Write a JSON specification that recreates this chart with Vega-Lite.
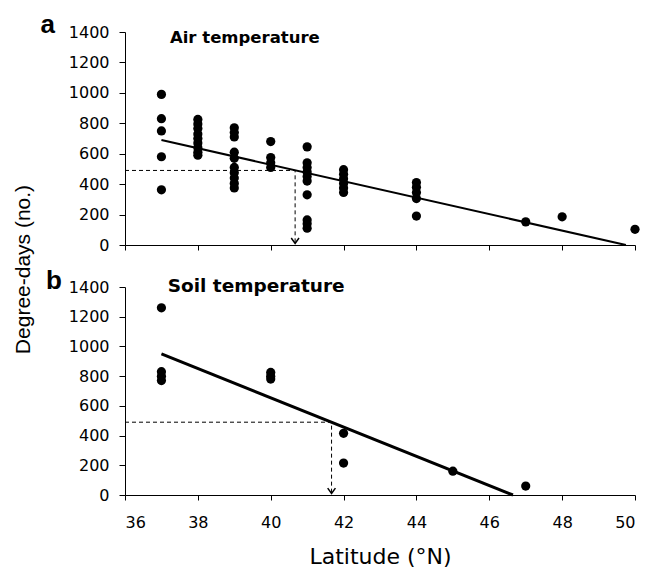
{
  "$schema": "https://vega.github.io/schema/vega-lite/v6.json",
  "background": "white",
  "padding": {"left": 12, "top": 12, "right": 5, "bottom": 0},
  "title": {"text": "Degree-days (no.)", "orient": "left", "anchor": "middle", "font": "Liberation Sans", "fontSize": 21, "fontWeight": "normal", "color": "black", "offset": 7, "dx": 20},
  "spacing": 15,
  "config": {
    "view": {"stroke": null},
    "axis": {"domainColor": "black", "tickColor": "black", "labelColor": "black", "labelFont": "DejaVu Sans", "labelFontSize": 16, "titleFont": "DejaVu Sans", "titleFontSize": 22, "titleFontWeight": "normal", "titleColor": "black", "grid": false, "domainWidth": 1, "tickWidth": 1}
  },
  "datasets": {
    "points": [
      {"panel": "a", "lat": 37, "dd": 990}, {"panel": "a", "lat": 37, "dd": 830}, {"panel": "a", "lat": 37, "dd": 750}, {"panel": "a", "lat": 37, "dd": 580}, {"panel": "a", "lat": 37, "dd": 363},
      {"panel": "a", "lat": 38, "dd": 825}, {"panel": "a", "lat": 38, "dd": 795}, {"panel": "a", "lat": 38, "dd": 765}, {"panel": "a", "lat": 38, "dd": 730}, {"panel": "a", "lat": 38, "dd": 700}, {"panel": "a", "lat": 38, "dd": 670}, {"panel": "a", "lat": 38, "dd": 640}, {"panel": "a", "lat": 38, "dd": 610}, {"panel": "a", "lat": 38, "dd": 590},
      {"panel": "a", "lat": 39, "dd": 770}, {"panel": "a", "lat": 39, "dd": 740}, {"panel": "a", "lat": 39, "dd": 710}, {"panel": "a", "lat": 39, "dd": 610}, {"panel": "a", "lat": 39, "dd": 570}, {"panel": "a", "lat": 39, "dd": 510}, {"panel": "a", "lat": 39, "dd": 475}, {"panel": "a", "lat": 39, "dd": 440}, {"panel": "a", "lat": 39, "dd": 405}, {"panel": "a", "lat": 39, "dd": 375},
      {"panel": "a", "lat": 40, "dd": 680}, {"panel": "a", "lat": 40, "dd": 575}, {"panel": "a", "lat": 40, "dd": 540}, {"panel": "a", "lat": 40, "dd": 510},
      {"panel": "a", "lat": 41, "dd": 645}, {"panel": "a", "lat": 41, "dd": 540}, {"panel": "a", "lat": 41, "dd": 510}, {"panel": "a", "lat": 41, "dd": 480}, {"panel": "a", "lat": 41, "dd": 450}, {"panel": "a", "lat": 41, "dd": 420}, {"panel": "a", "lat": 41, "dd": 330}, {"panel": "a", "lat": 41, "dd": 165}, {"panel": "a", "lat": 41, "dd": 140}, {"panel": "a", "lat": 41, "dd": 110},
      {"panel": "a", "lat": 42, "dd": 495}, {"panel": "a", "lat": 42, "dd": 465}, {"panel": "a", "lat": 42, "dd": 435}, {"panel": "a", "lat": 42, "dd": 405}, {"panel": "a", "lat": 42, "dd": 375}, {"panel": "a", "lat": 42, "dd": 345},
      {"panel": "a", "lat": 44, "dd": 410}, {"panel": "a", "lat": 44, "dd": 380}, {"panel": "a", "lat": 44, "dd": 345}, {"panel": "a", "lat": 44, "dd": 305}, {"panel": "a", "lat": 44, "dd": 190},
      {"panel": "a", "lat": 47, "dd": 152},
      {"panel": "a", "lat": 48, "dd": 185},
      {"panel": "a", "lat": 50, "dd": 103},
      {"panel": "b", "lat": 37, "dd": 1260}, {"panel": "b", "lat": 37, "dd": 830}, {"panel": "b", "lat": 37, "dd": 800}, {"panel": "b", "lat": 37, "dd": 770},
      {"panel": "b", "lat": 40, "dd": 825}, {"panel": "b", "lat": 40, "dd": 800}, {"panel": "b", "lat": 40, "dd": 780},
      {"panel": "b", "lat": 42, "dd": 415}, {"panel": "b", "lat": 42, "dd": 215},
      {"panel": "b", "lat": 45, "dd": 160},
      {"panel": "b", "lat": 47, "dd": 60}
    ],
    "fit": [
      {"panel": "a", "lat": 37, "dd": 690}, {"panel": "a", "lat": 49.75, "dd": 0},
      {"panel": "b", "lat": 37, "dd": 950}, {"panel": "b", "lat": 46.65, "dd": 0}
    ],
    "guide": [
      {"panel": "a", "step": 1, "lat": 36, "dd": 490}, {"panel": "a", "step": 2, "lat": 40.67, "dd": 490}, {"panel": "a", "step": 3, "lat": 40.67, "dd": 8},
      {"panel": "b", "step": 1, "lat": 36, "dd": 490}, {"panel": "b", "step": 2, "lat": 41.67, "dd": 490}, {"panel": "b", "step": 3, "lat": 41.67, "dd": 8}
    ],
    "arrow": [
      {"panel": "a", "lat": 40.67, "dd": 10},
      {"panel": "b", "lat": 41.67, "dd": 10}
    ],
    "labels": [
      {"panel": "a", "lat": 39.29, "dd": 1360, "label": "Air temperature"},
      {"panel": "b", "lat": 39.6, "dd": 1410, "label": "Soil temperature"}
    ],
    "letters": [
      {"panel": "a", "lat": 36, "dd": 1400, "label": "a"},
      {"panel": "b", "lat": 36, "dd": 1400, "label": "b"}
    ]
  },
  "vconcat": [
    {
      "width": 510,
      "height": 213,
      "encoding": {
        "x": {"field": "lat", "type": "quantitative", "scale": {"domain": [36, 50], "nice": false, "zero": false}, "axis": {"values": [36, 38, 40, 42, 44, 46, 48, 50], "labels": false, "title": null, "tickSize": 5}},
        "y": {"field": "dd", "type": "quantitative", "scale": {"domain": [0, 1400], "nice": false}, "axis": {"values": [0, 200, 400, 600, 800, 1000, 1200, 1400], "format": "d", "title": null, "tickSize": 6, "labelPadding": 10}}
      },
      "layer": [
        {"data": {"name": "guide"}, "transform": [{"filter": "datum.panel == 'a'"}], "mark": {"type": "line", "color": "black", "strokeWidth": 1, "strokeDash": [4, 3]}, "encoding": {"order": {"field": "step", "type": "quantitative"}}},
        {"data": {"name": "arrow"}, "transform": [{"filter": "datum.panel == 'a'"}], "mark": {"type": "point", "shape": "M-1,-1.4L0,0L1,-1.4", "filled": false, "color": "black", "strokeWidth": 1.5, "size": 60, "opacity": 1}},
        {"data": {"name": "fit"}, "transform": [{"filter": "datum.panel == 'a'"}], "mark": {"type": "line", "color": "black", "strokeWidth": 2}},
        {"data": {"name": "points"}, "transform": [{"filter": "datum.panel == 'a'"}], "mark": {"type": "circle", "color": "black", "size": 85, "opacity": 1}},
        {"data": {"name": "labels"}, "transform": [{"filter": "datum.panel == 'a'"}], "mark": {"type": "text", "font": "DejaVu Sans", "fontWeight": "bold", "fontSize": 16.5, "color": "black", "align": "center", "baseline": "middle"}, "encoding": {"text": {"field": "label"}}},
        {"data": {"name": "letters"}, "transform": [{"filter": "datum.panel == 'a'"}], "mark": {"type": "text", "font": "Liberation Sans", "fontWeight": "bold", "fontSize": 26, "color": "black", "align": "right", "baseline": "alphabetic", "dx": -70, "dy": 1}, "encoding": {"text": {"field": "label"}}}
      ]
    },
    {
      "width": 510,
      "height": 208,
      "encoding": {
        "x": {"field": "lat", "type": "quantitative", "scale": {"domain": [36, 50], "nice": false, "zero": false}, "axis": {"values": [36, 38, 40, 42, 44, 46, 48, 50], "title": "Latitude (°N)", "tickSize": 5, "labelPadding": 14, "titlePadding": 16}},
        "y": {"field": "dd", "type": "quantitative", "scale": {"domain": [0, 1400], "nice": false}, "axis": {"values": [0, 200, 400, 600, 800, 1000, 1200, 1400], "format": "d", "title": null, "tickSize": 6, "labelPadding": 10}}
      },
      "layer": [
        {"data": {"name": "guide"}, "transform": [{"filter": "datum.panel == 'b'"}], "mark": {"type": "line", "color": "black", "strokeWidth": 1, "strokeDash": [4, 3]}, "encoding": {"order": {"field": "step", "type": "quantitative"}}},
        {"data": {"name": "arrow"}, "transform": [{"filter": "datum.panel == 'b'"}], "mark": {"type": "point", "shape": "M-1,-1.4L0,0L1,-1.4", "filled": false, "color": "black", "strokeWidth": 1.5, "size": 60, "opacity": 1}},
        {"data": {"name": "fit"}, "transform": [{"filter": "datum.panel == 'b'"}], "mark": {"type": "line", "color": "black", "strokeWidth": 3}},
        {"data": {"name": "points"}, "transform": [{"filter": "datum.panel == 'b'"}], "mark": {"type": "circle", "color": "black", "size": 85, "opacity": 1}},
        {"data": {"name": "labels"}, "transform": [{"filter": "datum.panel == 'b'"}], "mark": {"type": "text", "font": "DejaVu Sans", "fontWeight": "bold", "fontSize": 18.5, "color": "black", "align": "center", "baseline": "middle"}, "encoding": {"text": {"field": "label"}}},
        {"data": {"name": "letters"}, "transform": [{"filter": "datum.panel == 'b'"}], "mark": {"type": "text", "font": "Liberation Sans", "fontWeight": "bold", "fontSize": 26, "color": "black", "align": "right", "baseline": "alphabetic", "dx": -63, "dy": 2}, "encoding": {"text": {"field": "label"}}}
      ]
    }
  ]
}
